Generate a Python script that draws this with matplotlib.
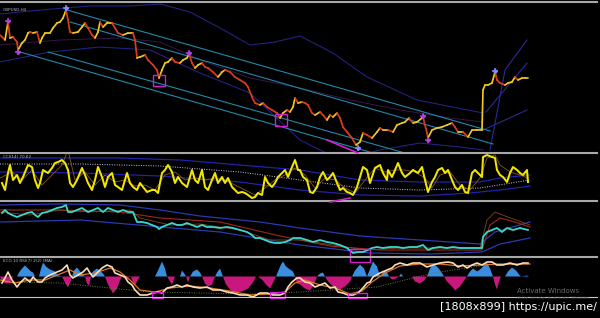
import numpy as np
import matplotlib
matplotlib.use("Agg")
import matplotlib.pyplot as plt
from matplotlib.collections import LineCollection
from matplotlib.patches import Rectangle

# ---------------- data (x = bar position, y = level on panel) -------------
price = [(0,35),(2,37),(5,40),(8,22),(10,38),(13,37),(17,42),(18,50),(22,43),(25,40),(28,33),(30,32),
         (33,33),(37,32),(40,43),(42,38),(45,33),(50,33),(53,28),(57,23),(60,22),(63,18),(66,10),(68,20),
         (70,32),(73,33),(78,32),(82,27),(85,23),(88,28),(92,35),(95,38),(98,32),(100,22),(103,27),(107,23),
         (112,23),(115,28),(118,33),(123,35),(128,33),(133,33),(135,40),(137,58),(140,57),(145,55),(148,60),
         (153,65),(157,70),(159,78),(162,70),(165,63),(168,62),(172,58),(175,62),(180,63),(183,60),(187,58),
         (189,54),(192,63),(195,68),(198,65),(202,63),(205,67),(208,68),(213,72),(218,77),(222,72),(225,70),
         (230,72),(235,77),(240,80),(245,83),(248,87),(252,97),(255,103),(260,105),(263,103),(267,107),
         (272,110),(277,113),(280,118),(283,113),(287,110),(290,112),(293,107),(295,98),(298,103),(302,102),
         (305,103),(308,105),(312,113),(315,115),(320,112),(323,115),(327,120),(330,115),(333,117),(337,113),
         (340,118),(343,127),(347,132),(352,138),(356,145),(360,142),(363,133),(367,135),(372,138),(377,132),
         (380,128),(383,130),(388,130),(393,132),(397,125),(402,123),(405,122),(409,118),(413,123),(417,122),
         (422,118),(423,117),(427,133),(428,138),(432,130),(437,128),(442,127),(447,125),(452,123),(455,127),
         (458,132),(463,132),(468,137),(472,130),(477,130),(482,130),(483,90),(485,85),(488,85),(492,83),
         (495,72),(497,80),(500,83),(505,85),(508,83),(512,82),(515,77),(518,80),(522,78),(525,78),(528,78)]

fractal_marks = [(8,21),(18,52),(66,8),(189,53),(358,148),(423,116),(428,140),(495,71)]
fractal_cols = ['#b040e0','#b040e0','#8888ff','#b040e0','#8888ff','#b040e0','#b040e0','#8888ff']

channel_lines = [[(67,10),(490,131)], [(70,22),(493,144)], [(20,52),(380,155)], [(48,52),(412,155)]]

band_upper = [(0,14),(40,10),(90,6),(130,6),(160,4),(190,12),(220,28),(250,45),(275,42),(300,36),
              (333,53),(367,77),(417,100),(483,113)]
band_mid = [(0,45),(60,40),(120,38),(160,42),(200,60),(250,78),(300,88),(350,100),(400,110),(450,118),(483,122)]
band_lower = [(0,62),(50,52),(100,47),(150,50),(200,73),(250,93),(300,140),(340,160),(380,150),
              (420,143),(460,147),(483,150)]
band_right = [[(483,130),(527,110)], [(486,112),(527,63)], [(490,150),(505,70),(527,40)]]

osc_main = [(2,183),(5,190),(8,173),(10,165),(13,180),(17,175),(20,183),(23,177),(28,165),(32,167),(35,180),
            (38,188),(40,183),(43,170),(48,173),(52,168),(55,163),(58,162),(62,160),(65,163),(68,170),(70,183),
            (73,187),(77,180),(82,168),(85,175),(88,183),(92,190),(95,180),(98,167),(102,177),(105,187),
            (108,177),(112,173),(115,185),(118,187),(122,190),(127,173),(130,183),(133,187),(137,190),(140,183),
            (143,187),(147,192),(152,190),(155,190),(158,193),(162,173),(165,170),(168,165),(172,172),(175,183),
            (178,177),(182,183),(187,187),(192,170),(195,180),(198,183),(202,170),(205,187),(208,190),(212,180),
            (215,173),(218,183),(222,177),(225,183),(228,178),(232,187),(235,190),(238,193),(242,192),(245,193),
            (248,195),(252,198),(255,197),(258,193),(262,195),(265,177),(268,183),(272,187),(275,183),(278,177),
            (282,173),(285,170),(288,177),(292,167),(295,160),(298,170),(300,170),(303,177),(307,180),(310,192),
            (313,193),(317,187),(320,177),(323,172),(327,180),(330,177),(333,173),(337,183),(340,190),(343,188),
            (347,192),(350,193),(353,195),(357,187),(360,177),(363,167),(367,170),(370,183),(372,177),(375,168),
            (380,165),(383,173),(387,180),(388,170),(392,177),(395,170),(398,163),(402,173),(405,177),(410,173),
            (413,170),(418,173),(422,167),(425,180),(428,192),(432,182),(435,177),(438,170),(442,168),(445,173),
            (448,170),(452,180),(455,187),(458,190),(462,185),(465,192),(468,193),(472,173),(475,170),(478,173),
            (482,177),(483,157),(487,155),(492,157),(495,158),(497,170),(500,175),(503,177),(507,182),(510,173),
            (513,167),(517,170),(520,173),(523,175),(527,170),(528,182)]
osc_signal = [(0,178),(12,172),(22,180),(32,170),(42,185),(52,175),(62,165),(68,150),(75,180),(85,172),
              (95,185),(105,175),(115,182),(125,180),(135,186),(145,185),(155,190),(165,175),(175,172),
              (185,180),(195,178),(205,180),(215,178),(225,180),(235,185),(245,190),(255,195),(265,188),
              (275,180),(285,175),(295,168),(305,175),(315,188),(325,178),(335,180),(345,188),(355,193),
              (365,180),(375,168),(385,172),(395,170),(405,170),(415,172),(425,178),(432,188),(440,175),
              (450,172),(460,185),(470,190),(480,178),(487,158),(495,155),(500,165),(510,172),(520,175),(528,178)]
osc_band_hi = [(0,158),(60,158),(120,158),(180,160),(240,165),(300,170),(360,180),(420,182),(480,182),(500,178),(530,175)]
osc_band_lo = [(0,172),(80,173),(160,176),(240,182),(300,190),(360,195),(420,196),(470,193),(500,190),(530,186)]
osc_dotted = [(0,164),(80,164),(160,166),(240,172),(300,180),(360,188),(420,190),(480,188),(530,180)]

trend_main = [(2,213),(5,210),(8,213),(12,215),(17,217),(22,215),(27,213),(32,212),(35,215),(38,217),(42,213),
              (47,212),(52,210),(57,208),(62,207),(66,205),(68,212),(72,212),(77,210),(82,208),(85,210),(88,212),
              (93,210),(98,208),(103,212),(108,208),(113,210),(118,212),(123,210),(128,212),(133,212),(135,217),
              (137,222),(142,222),(147,223),(152,225),(157,227),(159,229),(162,227),(167,225),(172,223),(177,225),
              (182,225),(187,223),(192,225),(197,227),(202,225),(207,227),(213,227),(220,228),(227,227),(233,228),
              (240,230),(247,232),(252,235),(255,238),(260,238),(265,240),(270,242),(275,243),(280,243),(285,242),
              (290,240),(293,238),(297,238),(300,238),(307,240),(313,242),(320,240),(327,242),(333,243),(340,245),
              (347,248),(353,253),(358,252),(363,252),(368,250),(372,248),(377,247),(383,248),(390,247),(397,247),
              (403,248),(410,247),(417,247),(423,245),(428,250),(433,248),(440,247),(447,248),(453,247),(460,248),
              (467,248),(473,248),(482,248),(483,237),(487,232),(492,230),(497,228),(502,232),(507,228),(513,230),
              (520,228),(528,230)]
trend_blue_a = [(0,205),(60,204),(120,205),(160,210),(200,216),(260,222),(300,228),(360,236),(420,240),(480,244),(495,232),(530,222)]
trend_red = [(0,210),(60,210),(120,212),(160,218),(220,222),(280,236),(330,246),(380,250),(430,250),(482,250),(490,225),(500,218),(515,222),(530,227)]
trend_blue_c = [(0,222),(80,220),(150,226),(220,232),(300,245),(370,253),(430,254),(482,252),(500,244),(530,238)]
trend_brown = [(0,212),(30,215),(60,210),(90,212),(130,210),(140,218),(170,225),(200,224),(240,230),(270,240),
               (300,240),(340,246),(365,250),(400,248),(440,248),(480,248),(487,220),(495,212),(505,216),(530,225)]

hist_zero = 276.5
hist = [(0,0),(2,-5),(6,-7),(10,-6),(13,0),(17,0),(19,4),(22,8),(25,11),(28,8),(31,5),(33,4),(35,0),(39,0),
        (41,8),(43,14),(46,10),(50,7),(55,5),(58,1),(62,0),(65,-6),(68,-11),(71,-4),(72,0),(74,6),(77,9),(80,5),
        (83,2),(85,0),(87,-7),(89,-9),(91,0),(93,5),(97,8),(100,6),(103,3),(105,0),(108,-8),(113,-17),(117,-12),
        (120,-4),(122,0),(125,-2),(128,-1),(131,0),(133,-6),(135,-9),(138,-3),(140,0),(155,0),(158,6),(162,15),
        (165,8),(167,0),(170,-5),(172,-8),(175,0),(180,0),(182,6),(185,2),(186,0),(188,-6),(190,0),(193,5),
        (197,7),(200,4),(202,0),(205,-7),(208,-10),(212,-8),(215,0),(217,4),(220,8),(223,0),(226,-8),(230,-13),
        (235,-16),(242,-15),(248,-12),(253,-6),(256,0),(258,0),(262,-3),(266,-8),(270,-12),(273,-6),(276,0),
        (278,5),(281,12),(283,15),(286,10),(290,7),(293,5),(295,0),(297,-7),(300,-8),(305,-12),(310,-14),
        (314,-8),(317,0),(320,3),(323,4),(325,0),(328,-5),(333,-10),(340,-13),(345,-10),(350,-5),(352,0),
        (355,6),(360,12),(364,8),(367,0),(369,5),(373,15),(377,10),(380,0),(383,4),(386,6),(389,0),(392,-3),
        (396,-2),(399,0),(401,3),(403,0),(412,0),(415,-5),(420,-7),(424,-4),(427,0),(430,8),(433,13),(437,10),
        (441,5),(444,0),(447,-5),(452,-10),(455,-14),(460,-10),(464,-4),(467,0),(470,5),(473,8),(477,5),
        (480,7),(484,11),(487,14),(490,8),(493,0),(495,-8),(497,-13),(499,-5),(501,0),(505,0),(508,5),(512,9),
        (516,6),(519,2),(521,0),(527,1),(529,0)]
rsi_fast = [(2,283),(5,278),(8,272),(12,280),(17,287),(20,283),(25,278),(30,282),(33,277),(38,282),(42,282),
            (45,278),(50,275),(57,272),(62,270),(67,265),(70,275),(73,278),(78,275),(83,272),(87,268),(90,273),
            (93,277),(98,272),(102,268),(107,265),(112,267),(115,273),(120,275),(125,277),(128,282),(132,285),
            (135,290),(140,295),(147,295),(153,293),(158,292),(162,293),(167,288),(172,287),(177,285),(182,287),
            (187,285),(193,287),(200,288),(207,287),(213,290),(220,290),(227,292),(233,293),(240,295),(247,295),
            (253,297),(260,293),(267,293),(273,295),(280,295),(285,293),(288,287),(292,282),(297,278),(300,278),
            (305,282),(310,283),(315,287),(320,285),(325,283),(330,288),(335,287),(338,292),(343,293),(348,295),
            (353,295),(358,293),(363,288),(367,283),(370,282),(373,277),(380,273),(387,270),(392,268),(395,265),
            (400,263),(407,265),(413,263),(420,263),(427,267),(433,265),(440,263),(448,262),(453,263),(458,267),
            (463,265),(467,268),(472,265),(477,263),(482,265),(487,262),(492,262),(497,265),(503,265),(510,263),
            (517,265),(523,263),(528,263)]
rsi_slow = [(0,280),(15,283),(30,280),(45,280),(60,274),(70,270),(80,275),(95,273),(110,268),(120,272),(130,280),
            (140,290),(155,292),(170,288),(190,286),(210,288),(230,291),(250,295),(270,294),(285,292),(295,283),
            (305,280),(320,285),(335,288),(350,294),(362,291),(372,282),(385,273),(400,266),(420,264),(440,264),
            (460,266),(480,265),(500,264),(530,264)]
rsi_dotted = [(0,282),(60,283),(150,292),(250,294),(300,292),(377,287),(433,273),(487,265),(530,264)]

marked_boxes = [(153,75,12,11),(275,114,12,12),(350,249,20,13),(152,292,11,6),(270,292,15,6),(348,293,19,5)]
magenta_lines = [[(327,140),(358,153)], [(330,202),(350,198)]]

# ---------------- figure -------------
W, H = 600, 318
fig = plt.figure(figsize=(W/100, H/100), dpi=100, facecolor='black')

def panel(top, bottom):
    ax = fig.add_axes([0, 1 - bottom/H, 1, (bottom - top)/H])
    ax.set_xlim(0, W)
    ax.set_ylim(bottom, top)
    ax.set_axis_off()
    return ax

def xy(pts):
    a = np.array(pts, dtype=float)
    return a[:, 0], a[:, 1]

# panel 1: price
ax1 = panel(3, 153)
for pts in [band_upper, band_lower]:
    ax1.plot(*xy(pts), color='#222280', lw=0.8)
ax1.plot(*xy(band_mid), color='#351848', lw=0.7)
for pts in band_right:
    ax1.plot(*xy(pts), color='#2a2a9a', lw=0.8)
for pts in channel_lines:
    ax1.plot(*xy(pts), color='#2288a8', lw=0.8)
pa = np.array(price, dtype=float)
segs = np.stack([pa[:-1], pa[1:]], axis=1)
cols = ['#ecc820' if pa[i+1, 1] <= pa[i, 1] else '#dc3c1a' for i in range(len(pa) - 1)]
ax1.add_collection(LineCollection(segs, colors=cols, linewidths=1.25, capstyle='round'))
for (mx, my), c in zip(fractal_marks, fractal_cols):
    ax1.plot(mx, my, marker='+', color=c, ms=4, mew=1.1)
    ax1.plot(mx, my, marker='D', color=c, ms=1.8)
ax1.text(3, 10, 'GBPUSD,H4', color='#bbbbbb', fontsize=3, va='center')

# panel 2: oscillator
ax2 = panel(154, 200)
ax2.plot(*xy(osc_band_hi), color='#2222aa', lw=0.9)
ax2.plot(*xy(osc_band_lo), color='#2222aa', lw=0.9)
ax2.plot(*xy(osc_dotted), color='#c8c8e8', lw=0.7, ls=(0, (1, 1.5)))
ax2.plot(*xy(osc_signal), color='#8a5a20', lw=0.6)
ax2.plot(*xy(osc_main), color='#f2e600', lw=1.45)
ax2.text(3, 157, 'CCI(14) 70.62', color='#bbbbbb', fontsize=3, va='center')

# panel 3: trend line
ax3 = panel(201, 257)
ax3.plot(*xy(trend_blue_a), color='#2a3ab0', lw=0.9)
ax3.plot(*xy(trend_blue_c), color='#2a3ab0', lw=0.9)
ax3.plot(*xy(trend_red), color='#a02818', lw=0.8)
ax3.plot(*xy(trend_brown), color='#7a4a1a', lw=0.6)
ax3.plot(*xy(trend_main), color='#38d8d0', lw=1.3)

# panel 4: histogram + lines
ax4 = panel(258, 297)
hx, hv = xy(hist)
ax4.fill_between(hx, hist_zero, hist_zero - hv, where=hv >= 0, interpolate=True, color='#3a8ee0', lw=0)
ax4.fill_between(hx, hist_zero, hist_zero - hv, where=hv <= 0, interpolate=True, color='#c8187e', lw=0)
ax4.plot(*xy(rsi_dotted), color='#6a7a30', lw=0.7, ls=(0, (1, 1.5)))
ax4.plot(*xy(rsi_slow), color='#e07820', lw=0.9)
ax4.plot(*xy(rsi_fast), color='#f8dcb8', lw=1.2)
ax4.text(3, 261, 'ECO 10 RSI(7) 2(2) (MA)', color='#bbbbbb', fontsize=3, va='center')

# overlay: separators, boxes, captions
ov = fig.add_axes([0, 0, 1, 1])
ov.set_xlim(0, W)
ov.set_ylim(H, 0)
ov.set_axis_off()
ov.patch.set_alpha(0)
for y in [2, 153, 200.5, 257]:
    ov.plot([0, 597], [y, y], color='#a8a8a8', lw=1.5)
ov.plot([0, 597], [297, 297], color='#c8c8c8', lw=0.8)
for (bx, by, bw, bh) in marked_boxes:
    ov.add_patch(Rectangle((bx, by), bw, bh, fill=False, ec='#d020d0', lw=1.0))
for pts in magenta_lines:
    ov.plot(*xy(pts), color='#d020d0', lw=1.2)
ov.text(517, 291, 'Activate Windows', color='#6a6a6a', fontsize=5, va='center')
ov.text(517, 297.5, 'Go to Settings to activate Windows.', color='#3a3a3a', fontsize=3, va='center')
ov.text(597, 307.5, '[1808x899] https://upic.me/', color='white', fontsize=8, ha='right', va='center')

fig.savefig('out.png', dpi=100, facecolor='black')
